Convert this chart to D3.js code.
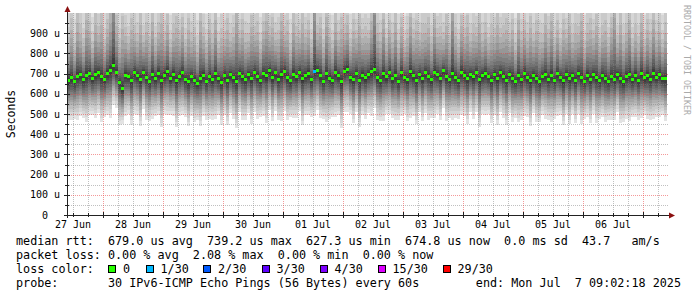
<!DOCTYPE html>
<html><head><meta charset="utf-8">
<script src="https://cdn.jsdelivr.net/npm/d3@7"></script>
<style>
body{margin:0;background:#fff}
text{font-family:"DejaVu Sans Mono",monospace;white-space:pre}
</style></head><body>
<svg id="chart" width="697" height="297"></svg>
<script>
// ---- data (microseconds), one entry per 72-minute step, 27 Jun 09:36 -> 07 Jul 09:36 ----
const medianRtt = [
668,680,660,688,694,670,692,702,676,697,705,684,672,700,715,739,706,658,627,692,
688,666,703,690,672,706,683,662,698,676,701,668,693,709,678,696,664,688,704,672,
660,684,668,652,678,693,662,687,670,699,675,658,690,666,694,680,663,701,684,670,
694,676,706,686,667,700,689,713,682,703,672,694,709,680,664,698,684,706,674,692,
701,670,710,716,692,663,699,678,668,705,689,659,712,722,683,671,702,666,693,679,
697,711,719,682,666,699,684,706,674,693,661,703,681,671,709,689,667,698,676,704,
688,670,706,696,677,713,686,672,701,682,665,707,692,675,698,684,704,669,691,700,
685,666,694,674,703,688,668,696,678,662,690,671,699,680,664,692,676,660,687,695,
672,692,667,699,681,664,695,675,689,668,701,683,663,691,672,696,679,666,690,676,
663,688,670,694,677,660,686,696,671,691,665,699,679,690,672,702,683,695,678,675];
// spread of the lower / upper half of the 30 pings in each step, percent of the typical spread
const spreadLo = [
98,105,92,110,101,95,116,104,90,108,99,112,94,103,118,96,88,107,88,100,
93,109,101,97,115,90,106,99,111,94,103,117,96,108,91,102,113,98,105,94,
110,97,104,92,118,101,95,107,99,113,90,105,98,111,94,102,116,96,108,100,
95,112,99,106,91,104,117,97,109,93,101,114,98,106,90,110,102,95,115,99,
104,93,111,98,107,95,119,101,92,109,97,113,100,105,91,108,96,114,99,103,
97,110,94,106,101,116,92,104,98,112,95,107,90,103,115,99,109,94,106,100,
108,96,113,99,104,91,110,97,115,102,94,107,100,112,93,105,98,117,96,103,
92,106,99,114,97,103,110,95,108,91,116,100,104,97,112,94,107,101,95,109,
101,115,96,105,92,110,98,113,94,106,100,117,93,104,109,97,111,95,102,107,
96,108,101,93,112,99,105,116,94,103,97,110,92,107,100,114,98,104,91,106];
const spreadHi = [
88,122,80,135,104,85,140,108,78,126,96,132,84,112,145,260,118,90,150,100,
82,128,100,88,138,78,114,94,132,86,106,142,90,120,80,104,134,94,116,84,
132,92,110,80,144,100,86,118,94,136,78,112,92,128,86,104,180,90,120,96,
86,130,96,114,80,108,140,92,124,84,102,136,94,118,78,128,104,88,138,96,
110,84,240,94,120,86,144,104,82,126,92,134,98,112,80,124,90,138,94,106,
92,128,260,112,100,140,80,108,94,132,86,116,78,104,138,96,124,86,114,100,
122,90,136,96,108,80,128,92,200,104,86,118,98,132,84,110,94,142,88,106,
82,116,96,136,92,106,128,86,122,80,140,100,110,92,134,86,120,102,88,126,
104,138,90,112,82,128,94,134,86,116,98,142,84,108,126,92,132,88,104,120,
90,122,190,82,134,96,110,138,86,106,92,128,80,116,100,136,94,108,80,116];
// typical sorted ping offsets from the median (us), 30 pings
const pingOffsets = [-200,-180,-162,-146,-131,-117,-104,-92,-80,-68,-56,-44,-32,-20,-8,
                     5,14,24,36,50,66,84,105,130,160,195,240,300,390,550];
const lossStep = [82];
const lossPings = [1];
const lossThresholds = [0,1,2,3,4,15,29];
const lossLabels = ["0","1/30","2/30","3/30","4/30","15/30","29/30"];
const lossColors = ["#26ff00","#00b8ff","#0059ff","#5e00ff","#7e00ff","#dd00ff","#ff0000"];
const dayLabels = ["27 Jun","28 Jun","29 Jun","30 Jun","01 Jul","02 Jul","03 Jul","04 Jul","05 Jul","06 Jul"];
const yTickValues = [0,100,200,300,400,500,600,700,800,900];
const yTickLabels = ["0","100 u","200 u","300 u","400 u","500 u","600 u","700 u","800 u","900 u"];
const legendLines = [
 "median rtt:  679.0 us avg  739.2 us max  627.3 us min  674.8 us now  0.0 ms sd  43.7   am/s",
 "packet loss: 0.00 % avg  2.08 % max  0.00 % min  0.00 % now",
 "loss color:",
 "probe:       30 IPv6-ICMP Echo Pings (56 Bytes) every 60s        end: Mon Jul  7 09:02:18 2025"];

// ---- layout ----
const svg = d3.select("#chart");
const L = 67, R = 667, T = 13, B = 215;
const stepMs = 4320 * 1000;
const t0 = Date.UTC(2025, 5, 27, 9, 36);
const t1 = t0 + medianRtt.length * stepMs;
const x = d3.scaleUtc().domain([t0, t1]).range([L, R]);
const y = d3.scaleLinear().domain([0, 1000]).range([B, T]);

svg.append("defs").append("clipPath").attr("id","plot")
  .append("rect").attr("x",L).attr("y",T).attr("width",R-L).attr("height",B-T);

// ---- smoke ----
const steps = medianRtt.map((m,i) => {
  const lo = spreadLo[i]/100, hi = spreadHi[i]/100;
  const pings = pingOffsets.map((o,j) => m + o*(j < 15 ? lo : hi));
  return {i, m, pings, t: t0 + i*stepMs};
});
const smoke = svg.append("g").attr("clip-path","url(#plot)").attr("shape-rendering","crispEdges");
const half = 15;
for (let k = 1; k <= half; k++) {
  const c = Math.floor(190/half*(half-k)) + 50;
  const col = d3.rgb(c,c,c).formatHex();
  smoke.append("g").selectAll("rect").data(steps).join("rect")
    .attr("x", d => x(d.t))
    .attr("width", d => x(d.t + stepMs) - x(d.t))
    .attr("y", d => y(Math.min(d.pings[30-k], 1100)))
    .attr("height", d => y(d.pings[k-1]) - y(Math.min(d.pings[30-k], 1100)))
    .attr("fill", col);
}

// ---- grid ----
const grid = svg.append("g");
const minorV = d3.utcHour.every(6).range(t0, t1).filter(d => d.getUTCHours() !== 0);
const majorV = d3.utcDay.range(t0, t1);
grid.selectAll(".gv").data(minorV).join("line")
  .attr("x1", d => Math.round(x(d))+0.5).attr("x2", d => Math.round(x(d))+0.5)
  .attr("y1", T).attr("y2", B)
  .attr("stroke","rgba(130,130,130,0.5)").attr("stroke-dasharray","1,1");
const minorH = d3.range(50, 1000, 100);
grid.selectAll(".gh").data(minorH).join("line")
  .attr("x1", L).attr("x2", R+2)
  .attr("y1", d => Math.round(y(d))+0.5).attr("y2", d => Math.round(y(d))+0.5)
  .attr("stroke","rgba(130,130,130,0.5)").attr("stroke-dasharray","1,1");
grid.selectAll(".mv").data(majorV).join("line")
  .attr("x1", d => Math.round(x(d))+0.5).attr("x2", d => Math.round(x(d))+0.5)
  .attr("y1", T).attr("y2", B)
  .attr("stroke","rgba(235,70,70,0.55)").attr("stroke-dasharray","1,1");
grid.selectAll(".mh").data(yTickValues.filter(v => v > 0)).join("line")
  .attr("x1", L).attr("x2", R+2)
  .attr("y1", d => Math.round(y(d))+0.5).attr("y2", d => Math.round(y(d))+0.5)
  .attr("stroke","rgba(235,70,70,0.55)").attr("stroke-dasharray","1,1");

// ---- median marks ----
const lossMap = new Map(lossStep.map((s,i) => [s, lossPings[i]]));
function lossColor(n){ let c = lossColors[0]; lossThresholds.forEach((t,i)=>{ if(n>=t) c = lossColors[i]; }); return c; }
svg.append("g").attr("clip-path","url(#plot)").attr("shape-rendering","crispEdges")
  .selectAll("rect").data(steps).join("rect")
  .attr("x", d => x(d.t)).attr("width", d => x(d.t + stepMs) - x(d.t))
  .attr("y", d => y(d.m) - 1.5).attr("height", 3)
  .attr("fill", d => lossColor(lossMap.get(d.i) || 0));

// ---- axes ----
const ax = svg.append("g").attr("shape-rendering","crispEdges");
ax.selectAll(".ty").data(yTickValues).join("line")
  .attr("x1", L-3).attr("x2", L+3)
  .attr("y1", d => Math.round(y(d))+0.5).attr("y2", d => Math.round(y(d))+0.5)
  .attr("stroke","#222");
ax.selectAll(".tym").data(minorH).join("line")
  .attr("x1", L-2).attr("x2", L+2)
  .attr("y1", d => Math.round(y(d))+0.5).attr("y2", d => Math.round(y(d))+0.5)
  .attr("stroke","#222");
ax.selectAll(".tx").data(majorV).join("line")
  .attr("x1", d => Math.round(x(d))+0.5).attr("x2", d => Math.round(x(d))+0.5)
  .attr("y1", B-3).attr("y2", B+3).attr("stroke","#222");
ax.selectAll(".txm").data(minorV).join("line")
  .attr("x1", d => Math.round(x(d))+0.5).attr("x2", d => Math.round(x(d))+0.5)
  .attr("y1", B-2).attr("y2", B+2).attr("stroke","#222");
ax.append("line").attr("x1", L+0.5).attr("x2", L+0.5).attr("y1", B+3).attr("y2", T-4).attr("stroke","#222");
ax.append("line").attr("x1", L-3).attr("x2", R+4).attr("y1", B+0.5).attr("y2", B+0.5).attr("stroke","#222");
svg.append("path").attr("d", `M${L-2.5},${T-1} L${L+3.5},${T-1} L${L+0.5},${T-7} Z`).attr("fill","#8b1010");
svg.append("path").attr("d", `M${R+2},${B-2.5} L${R+2},${B+3.5} L${R+8},${B+0.5} Z`).attr("fill","#8b1010");

// y labels
svg.append("g").selectAll("text").data(yTickValues).join("text")
  .attr("x", (d,i) => yTickLabels[i].includes(" ") ? 60 : 48)
  .attr("y", d => y(d) + 3.5)
  .attr("text-anchor","end").attr("font-size","10px").attr("fill","#000")
  .text((d,i) => yTickLabels[i]);
// x labels at noon of each day
svg.append("g").selectAll("text").data(dayLabels).join("text")
  .attr("x", (d,i) => x(Date.UTC(2025,5,27,12) + i*86400000))
  .attr("y", 228).attr("text-anchor","middle").attr("font-size","10px").attr("fill","#000")
  .text(d => d);
// y title
svg.append("text").attr("transform","translate(15,114) rotate(-90)")
  .attr("text-anchor","middle").attr("font-size","11.5px").attr("fill","#000").text("Seconds");
// watermark
svg.append("text").attr("transform","translate(684,5) rotate(90)")
  .attr("font-size","8.3px").attr("fill","#aaa").text("RRDTOOL / TOBI OETIKER");

// ---- legend ----
const lg = svg.append("g");
const baselines = [244.7, 258.7, 272.7, 286.5];
legendLines.forEach((s,i) => {
  lg.append("text").attr("x",16).attr("y",baselines[i]).attr("font-size","11.75px")
    .attr("fill","#000").text(s);
});
const sqX = [108,145.5,203,261.5,319.5,377.5,442.5];
lg.selectAll("rect").data(lossLabels).join("rect")
  .attr("x",(d,i)=>sqX[i]+0.5).attr("y",265.5).attr("width",7).attr("height",7)
  .attr("fill",(d,i)=>lossColors[i]).attr("stroke","#000").attr("shape-rendering","crispEdges");
lg.selectAll(".ll").data(lossLabels).join("text")
  .attr("x",(d,i)=>sqX[i]+15).attr("y",baselines[2]).attr("font-size","11.75px")
  .attr("fill","#000").text(d => d);
</script>
</body></html>
